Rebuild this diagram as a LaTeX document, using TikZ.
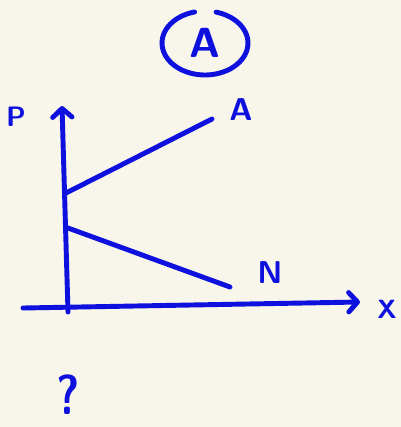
\documentclass[tikz,border=0pt]{standalone}
\usepackage{tikz}
\usetikzlibrary{arrows.meta, calc}
\definecolor{penblue}{RGB}{14,16,222}
\definecolor{paper}{RGB}{248,245,234}

\begin{document}
\begin{tikzpicture}[
  x=0.02cm, y=-0.02cm,
  pen/.style={draw=penblue, line width=2.8pt, line cap=round, line join=round},
  axis/.style={pen, -{Straight Barb[length=5pt, width=11pt, round]}},
  lbl/.style={text=penblue, font=\sffamily\bfseries, inner sep=0pt}
]
  %% Paper and frame
  \fill[paper] (0,0) rectangle (401,427);

  %% Title: circled A
  \node[lbl, font=\fontsize{24}{26}\selectfont\sffamily\bfseries] (circA) at (205,43) {A};
  \draw[pen] ([shift={(104:0.86cm and 0.64cm)}]circA.center)
    arc[start angle=104, end angle=435, x radius=0.86cm, y radius=0.64cm];

  %% Axes
  \coordinate (ybase) at (68,312);
  \coordinate (ytip)  at (62,106);
  \coordinate (xbase) at (23,308);
  \coordinate (xtip)  at (360,302);
  \draw[axis] (ybase) -- (ytip);
  \draw[axis] (xbase) -- (xtip);
  \node[lbl, font=\fontsize{16}{18}\selectfont\sffamily\bfseries] (plbl) at (16,117) {P};
  \node[lbl, font=\fontsize{15}{17}\selectfont\sffamily\bfseries] (xlbl) at (387,309) {X};

  %% Lines A and N
  \coordinate (aStart) at (66,193);
  \coordinate (aEnd)   at (212,119);
  \coordinate (nStart) at (68,228);
  \coordinate (nEnd)   at (230,287);
  \draw[pen] (aStart) -- (aEnd);
  \draw[pen] (nStart) -- (nEnd);
  \node[lbl, font=\fontsize{18}{20}\selectfont\sffamily\bfseries] (albl) at (241,110) {A};
  \node[lbl, font=\fontsize{18}{20}\selectfont\sffamily\bfseries] (nlbl) at (270,273) {N};

  %% Question
  \node[lbl, font=\fontsize{32}{34}\selectfont\sffamily\bfseries, anchor=base] (qmark) at (68,414) {\scalebox{0.8}[1]{?}};
\end{tikzpicture}
\end{document}
